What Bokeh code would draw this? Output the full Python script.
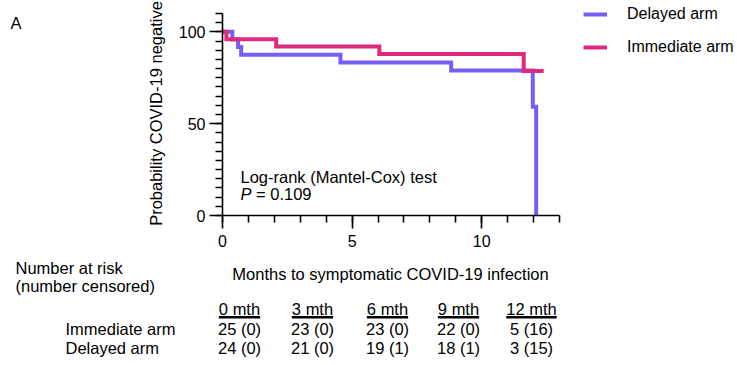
import math
from bokeh.plotting import figure
from bokeh.models import Range1d, FixedTicker, Legend, LegendItem, LinearAxis
from bokeh.embed import file_html
from bokeh.resources import INLINE
from bokeh.core.properties import value

# ---------------- data ----------------
delayed_months = [0, 0.38, 0.6, 0.72, 4.55, 8.82, 11.97, 12.1]
delayed_surv = [100, 95.8, 91.7, 87.5, 83.3, 78.9, 59.2, 0]
immediate_months = [0, 0.15, 2.07, 6.05, 11.62, 12.39]
immediate_surv = [100, 96, 92, 88, 78.7, 78.7]

x_major_ticks = [0, 5, 10]
x_minor_ticks = list(range(0, 14))
y_major_ticks = [0, 50, 100]
y_minor_ticks = list(range(0, 111, 5))

risk_headers = ["0 mth", "3 mth", "6 mth", "9 mth", "12 mth"]
immediate_at_risk = [25, 23, 23, 22, 5]
immediate_censored = [0, 0, 0, 0, 16]
delayed_at_risk = [24, 21, 19, 18, 3]
delayed_censored = [0, 0, 1, 1, 15]

# ---------------- styling / layout ----------------
PURPLE = "#7a5df4"
PINK = "#dc2a7e"
FONT = "Liberation Sans"
FS = "16.5px"
TICK_FS = "16px"

W, H = 737, 362
OFF = 0                      # page offset of the canvas
AX_X, AX_Y = 222, 215        # page px of the axes origin
PXM = 337 / 13               # px per month
PYU = 202 / 110              # px per percentage point
X_MAX, Y_MAX = 13, 110

X0 = AX_X - OFF
Y0 = AX_Y - OFF


def dx(px):
    return (px - AX_X) / PXM


def dy(py):
    return (AX_Y - py) / PYU


p = figure(width=W, height=H,
           x_range=Range1d(-X0 / PXM, (W - X0) / PXM),
           y_range=Range1d((Y0 - H) / PYU, Y0 / PYU),
           x_axis_type=None, y_axis_type=None,
           output_backend="svg", toolbar_location=None,
           min_border=0, min_border_left=0, min_border_right=0,
           min_border_top=0, min_border_bottom=0)
p.outline_line_color = None
p.background_fill_color = "white"
p.border_fill_color = "white"

xaxis = LinearAxis(fixed_location=0, bounds=(0, X_MAX),
                   ticker=FixedTicker(ticks=x_major_ticks, minor_ticks=x_minor_ticks))
yaxis = LinearAxis(fixed_location=0, bounds=(0, Y_MAX),
                   ticker=FixedTicker(ticks=y_major_ticks, minor_ticks=y_minor_ticks))
for ax in (xaxis, yaxis):
    ax.axis_line_width = 1.6
    ax.axis_line_color = "black"
    ax.major_tick_in = 0
    ax.major_tick_out = 13
    ax.minor_tick_in = 0
    ax.minor_tick_out = 7
    ax.major_tick_line_width = 1.6
    ax.minor_tick_line_width = 1.6
    ax.major_tick_line_color = "black"
    ax.minor_tick_line_color = "black"
    ax.major_label_text_font = FONT
    ax.major_label_text_font_size = TICK_FS
    ax.major_label_text_color = "black"
xaxis.major_label_standoff = 6
yaxis.major_label_standoff = 4
p.add_layout(xaxis, "below")
p.add_layout(yaxis, "left")

r_del = p.step(delayed_months, delayed_surv, mode="after", line_color=PURPLE,
               line_width=4, line_join="miter")
r_imm = p.step(immediate_months, immediate_surv, mode="after", line_color=PINK,
               line_width=4, line_join="miter")

legend = Legend(items=[LegendItem(label="Delayed arm", renderers=[r_del]),
                       LegendItem(label="Immediate arm", renderers=[r_imm])],
                location=(583 - OFF, H - (13.5 - OFF - 10 + 53)),
                orientation="vertical",
                padding=0, margin=0, spacing=13, glyph_width=24, glyph_height=20,
                label_height=20, label_standoff=20,
                label_text_font=FONT, label_text_font_size=TICK_FS,
                label_text_color="black", border_line_alpha=0,
                background_fill_alpha=0)
p.add_layout(legend)

base = dict(text_font=value(FONT), text_font_size=FS, text_color="black",
            text_baseline="middle")


def txt(items, align="left", style="normal", angle=0):
    p.text(x=[dx(a) for a, _, _ in items], y=[dy(b) for _, b, _ in items],
           text=[s for _, _, s in items], text_align=align,
           text_font_style=style, angle=angle, **base)


# axis titles
txt([(155, 113, "Probability COVID-19 negative")], align="center", angle=math.pi / 2)
txt([(390, 273, "Months to symptomatic COVID-19 infection")], align="center")
# panel letter & annotations
txt([(10, 22, "A"),
     (240, 176, "Log-rank (Mantel-Cox) test"),
     (255.5, 193.5, "= 0.109"),
     (15, 267, "Number at risk"),
     (15, 285, "(number censored)")])
txt([(240, 193.5, "P")], style="italic")

# ---------------- number-at-risk table ----------------
col_centers = [239, 312, 387, 458, 531]
hdr_y, line_y, imm_y, del_y = 308.5, 316.7, 328.3, 347.5
row_label_x = 65

char_w = {" ": 0.278, "m": 0.833, "t": 0.278, "h": 0.556}
fs_num = 16.5


def text_w(s):
    return sum(char_w.get(c, 0.556) for c in s) * fs_num


txt([(c, hdr_y, h) for c, h in zip(col_centers, risk_headers)], align="center")
p.segment(x0=[dx(c - text_w(h) / 2) for c, h in zip(col_centers, risk_headers)],
          x1=[dx(c + text_w(h) / 2) for c, h in zip(col_centers, risk_headers)],
          y0=[dy(line_y)] * len(col_centers), y1=[dy(line_y)] * len(col_centers),
          line_color="black", line_width=2.6)
txt([(c, imm_y, f"{n} ({k})") for c, n, k in
     zip(col_centers, immediate_at_risk, immediate_censored)], align="center")
txt([(c, del_y, f"{n} ({k})") for c, n, k in
     zip(col_centers, delayed_at_risk, delayed_censored)], align="center")
txt([(row_label_x, imm_y, "Immediate arm"), (row_label_x, del_y, "Delayed arm")])

open("out.html", "w").write(file_html(p, INLINE))
